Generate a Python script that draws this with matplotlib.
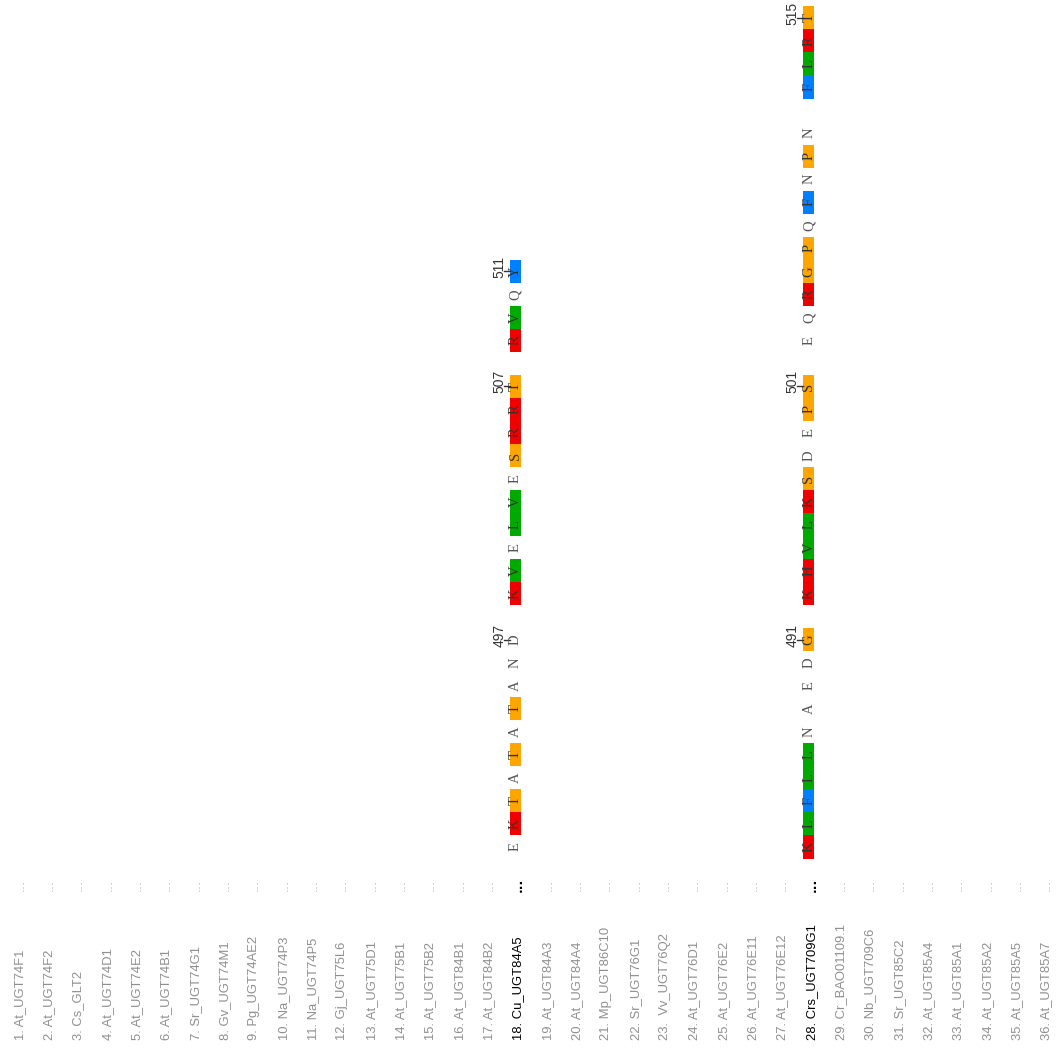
import matplotlib.pyplot as plt

# sequence names, one column each
names = ['At_UGT74F1', 'At_UGT74F2', 'Cs_GLT2', 'At_UGT74D1', 'At_UGT74E2',
         'At_UGT74B1', 'Sr_UGT74G1', 'Gv_UGT74M1', 'Pg_UGT74AE2', 'Na_UGT74P3',
         'Na_UGT74P5', 'Gj_UGT75L6', 'At_UGT75D1', 'At_UGT75B1', 'At_UGT75B2',
         'At_UGT84B1', 'At_UGT84B2', 'Cu_UGT84A5', 'At_UGT84A3', 'At_UGT84A4',
         'Mp_UGT86C10', 'Sr_UGT76G1', ' Vv_UGT76Q2', 'At_UGT76D1', 'At_UGT76E2',
         'At_UGT76E11', 'At_UGT76E12', 'Crs_UGT709G1', 'Cr_BAO01109.1', 'Nb_UGT709C6',
         'Sr_UGT85C2', 'At_UGT85A4', 'At_UGT85A1', 'At_UGT85A2', 'At_UGT85A5',
         'At_UGT85A7']
highlight = [18, 28]

# residues shown (bottom to top), blank = gap between blocks of 10
seq_rows = [18, 28]
seqs = ['EKTATATAND KVELVESRRT RVQY',
        'KLFLLNAEDG KHVLKSDEPS EQRGPQFNPN FLRT']
# position numbers: (row, slot, number)
num_rows = [18, 18, 18, 28, 28, 28]
num_slots = [9, 20, 25, 9, 20, 36]
num_vals = [497, 507, 511, 491, 501, 515]

colors = {}
for aa in 'KRH':
    colors[aa] = '#f00000'
for aa in 'STGP':
    colors[aa] = '#ffa500'
for aa in 'VLIM':
    colors[aa] = '#00aa00'
for aa in 'FYW':
    colors[aa] = '#0080ff'

fig = plt.figure(figsize=(10.64, 10.57), dpi=100)
ax = fig.add_axes([0, 0, 1, 1])
ax.set_xlim(1 - 16.7 / 29.34, 1 + (1064 - 16.7) / 29.34)
ax.set_ylim(-(1057 - 847) / 23.03, 847 / 23.03)
ax.axis('off')

box_w = 11 / 29.34

# labels and ellipses
for i, name in enumerate(names):
    row = i + 1
    hl = row in highlight
    col = '#000000' if hl else '#8f8f8f'
    ax.text(row + 0.1, -8.4, f'{row}. {name}', rotation=90, ha='center', va='bottom',
            fontsize=9.4, color=col, family='Liberation Sans')
    ax.text(row + 0.1, -1.65, '...', rotation=90, ha='center', va='center',
            fontsize=9, color=col if hl else '#b5b5b5',
            fontweight='bold' if hl else 'normal', family='DejaVu Sans')

# residues
for row, seq in zip(seq_rows, seqs):
    for k, aa in enumerate(seq):
        if aa == ' ':
            continue
        if aa in colors:
            ax.bar(row, 1, bottom=k - 0.5, width=box_w, color=colors[aa], linewidth=0)
            tc = '#333333'
        else:
            tc = '#555555'
        ax.text(row, k, aa, rotation=90, ha='center', va='center',
                fontsize=10.5, color=tc, family='Liberation Serif')

# position numbers with ticks
for row, k, val in zip(num_rows, num_slots, num_vals):
    left = row - box_w / 2
    ax.plot([left - 0.22, left], [k, k], color='#333333', lw=1)
    ax.text(row - 0.55, k + 0.2, str(val), rotation=90, ha='center', va='center',
            fontsize=10, color='#333333', family='Liberation Sans')

fig.savefig('out.png', dpi=100)
